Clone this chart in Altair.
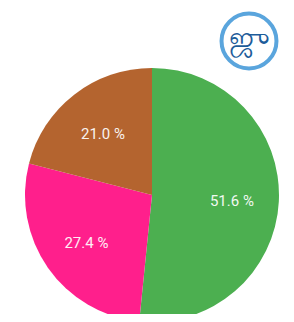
import altair as alt
import pandas as pd

categories = ["A", "B", "C"]
values = [51.6, 27.4, 21.0]
labels = ["51.6 %", "27.4 %", "21.0 %"]
colors = ["#4caf50", "#ff1f8c", "#b4642f"]

df = pd.DataFrame({"cat": categories, "val": values, "label": labels, "ord": [0, 1, 2]})

W, H = 278, 306
CX, CY = 144, 187
R = 127

base = alt.Chart(df).encode(
    theta=alt.Theta("val:Q", stack=True),
    order=alt.Order("ord:Q"),
)

pie = base.mark_arc(outerRadius=R, stroke=None).encode(
    x=alt.value(CX), y=alt.value(CY),
    color=alt.Color("cat:N", scale=alt.Scale(domain=categories, range=colors), legend=None),
)

text = base.mark_text(radius=80, fontSize=15, font="Roboto", color="white", opacity=0.92,
                      baseline="middle", dy=2).encode(
    x=alt.value(CX), y=alt.value(CY),
    text="label:N",
)

logo_df = pd.DataFrame({"a": [1]})
logo = alt.Chart(logo_df).mark_point(shape="circle", size=3020, filled=True, fill="white",
                                      stroke="#5aa5dd", strokeWidth=4, opacity=1).encode(
    x=alt.value(241), y=alt.value(33)
)
logo2 = alt.Chart(logo_df).mark_text(text="ஜு", fontSize=30, color="#1d5c9a",
                                     font="Noto Sans").encode(
    x=alt.value(241), y=alt.value(31)
)

chart = alt.layer(pie, text, logo, logo2).properties(
    width=W, height=H, padding=0, autosize="none"
).configure_view(stroke=None)

chart.save("out.html", embed_options={"renderer": "svg", "actions": False})
